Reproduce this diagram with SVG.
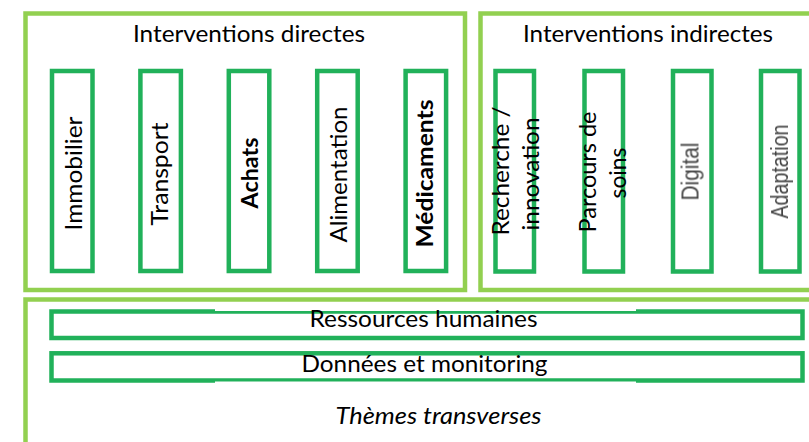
<svg xmlns="http://www.w3.org/2000/svg" width="809" height="442" viewBox="0 0 809 442">
  <defs>
    <style>
      .frame { fill: none; stroke: #92D050; stroke-width: 4.5; }
      .bar { fill: #ffffff; stroke: #21B15A; stroke-width: 4.5; }
      .t { font-family: Lato, "Liberation Sans", sans-serif; font-size: 23px; fill: #000000; }
      .b { font-weight: bold; }
      .i { font-style: italic; }
      .mid { text-anchor: middle; }
      .g { font-family: "Liberation Sans", Arial, sans-serif; font-size: 23px; fill: #444444; text-anchor: middle; }
    </style>
    <filter id="soft" x="-10%" y="-10%" width="120%" height="120%">
      <feGaussianBlur stdDeviation="0.55"/>
    </filter>
  </defs>

  <rect width="809" height="442" fill="#ffffff"/>

  <!-- direct interventions -->
  <g id="directes">
    <rect class="frame" x="25.5" y="13.5" width="439.5" height="276.5"/>
    <text class="t mid" x="249" y="41.5" textLength="232" lengthAdjust="spacingAndGlyphs">Interventions directes</text>
  </g>
  <g id="immobilier">
    <rect class="bar" x="52" y="71" width="40.5" height="200"/>
    <text class="t mid" transform="translate(81.5,173.5) rotate(-90)" textLength="114" lengthAdjust="spacingAndGlyphs">Immobilier</text>
  </g>
  <g id="transport">
    <rect class="bar" x="140.4" y="71" width="40.5" height="200"/>
    <text class="t mid" transform="translate(168,174) rotate(-90)" textLength="103" lengthAdjust="spacingAndGlyphs">Transport</text>
  </g>
  <g id="achats">
    <rect class="bar" x="228.8" y="71" width="40.5" height="200"/>
    <text class="t b mid" transform="translate(258,173) rotate(-90)" textLength="71" lengthAdjust="spacingAndGlyphs">Achats</text>
  </g>
  <g id="alimentation">
    <rect class="bar" x="317.2" y="71" width="40.5" height="200"/>
    <text class="t mid" transform="translate(347,174.5) rotate(-90)" textLength="136" lengthAdjust="spacingAndGlyphs">Alimentation</text>
  </g>
  <g id="medicaments">
    <rect class="bar" x="405.6" y="71" width="40.5" height="200"/>
    <text class="t b mid" transform="translate(433,173.5) rotate(-90)" textLength="148" lengthAdjust="spacingAndGlyphs">Médicaments</text>
  </g>

  <!-- indirect interventions -->
  <g id="indirectes">
    <rect class="frame" x="480.5" y="13.5" width="340" height="276.5"/>
    <text class="t mid" x="648" y="41.5" textLength="250" lengthAdjust="spacingAndGlyphs">Interventions indirectes</text>
  </g>
  <g id="recherche">
    <rect class="bar" x="495.5" y="71" width="38.5" height="200.5"/>
    <text class="t mid" transform="translate(509.3,171) rotate(-90)" textLength="129" lengthAdjust="spacingAndGlyphs">Recherche /</text>
    <text class="t mid" transform="translate(539.3,174) rotate(-90)" textLength="113" lengthAdjust="spacingAndGlyphs">innovation</text>
  </g>
  <g id="parcours">
    <rect class="bar" x="584.5" y="71" width="38.5" height="200.5"/>
    <text class="t mid" transform="translate(595.5,172) rotate(-90)" textLength="121" lengthAdjust="spacingAndGlyphs">Parcours de</text>
    <text class="t mid" transform="translate(626,173) rotate(-90)" textLength="51" lengthAdjust="spacingAndGlyphs">soins</text>
  </g>
  <g id="digital">
    <rect class="bar" x="673" y="71" width="38.5" height="200.5"/>
    <text class="g" filter="url(#soft)" transform="translate(698.5,171.5) rotate(-90)" textLength="58" lengthAdjust="spacingAndGlyphs">Digital</text>
  </g>
  <g id="adaptation">
    <rect class="bar" x="761" y="71" width="38.5" height="200.5"/>
    <text class="g" filter="url(#soft)" transform="translate(788,171.5) rotate(-90)" textLength="94" lengthAdjust="spacingAndGlyphs">Adaptation</text>
  </g>

  <!-- cross-cutting themes -->
  <g id="transverses">
    <rect class="frame" x="25.5" y="299.5" width="800" height="160"/>
    <text class="t i mid" x="438.5" y="424" textLength="206" lengthAdjust="spacingAndGlyphs">Thèmes transverses</text>
  </g>
  <g id="ressources">
    <rect class="bar" x="51.5" y="311.5" width="751" height="26.5"/>
    <rect x="215" y="308.5" width="421" height="2.5" fill="#ffffff"/>
    <text class="t mid" x="423.5" y="326.5" textLength="228" lengthAdjust="spacingAndGlyphs">Ressources humaines</text>
  </g>
  <g id="donnees">
    <rect class="bar" x="51.5" y="353.3" width="751" height="27.2"/>
    <rect x="215" y="381.5" width="421" height="2" fill="#ffffff"/>
    <text class="t mid" x="424.5" y="372" textLength="246" lengthAdjust="spacingAndGlyphs">Données et monitoring</text>
  </g>
</svg>
